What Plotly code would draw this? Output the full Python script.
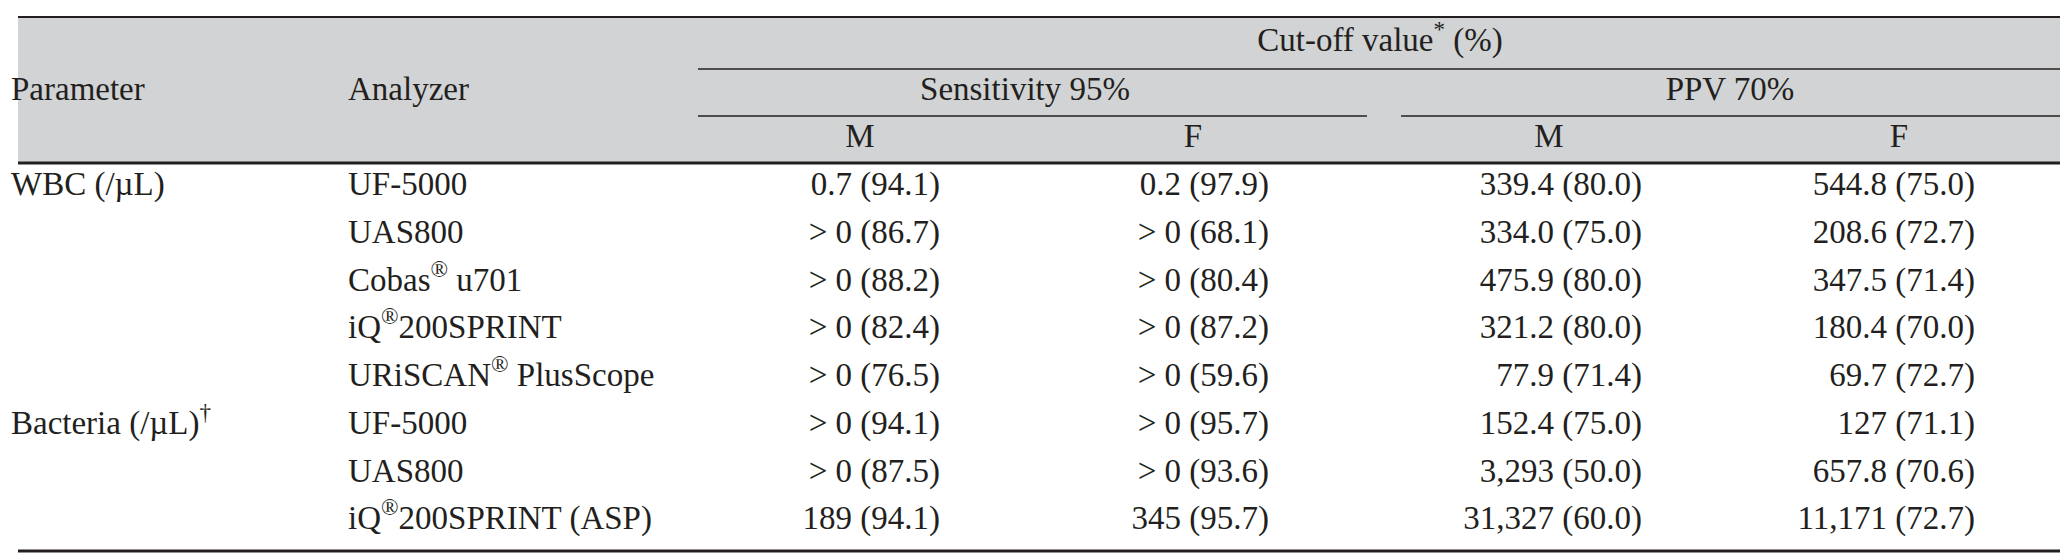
import plotly.graph_objects as go

# ---------------- data ----------------
parameters = ["WBC (/µL)", "", "", "", "", "Bacteria (/µL)<sup>†</sup>", "", ""]
analyzers = ["UF-5000", "UAS800", "Cobas<sup>®</sup> u701", "iQ<sup>®</sup>200SPRINT",
             "URiSCAN<sup>®</sup> PlusScope", "UF-5000", "UAS800", "iQ<sup>®</sup>200SPRINT (ASP)"]
sens_m = ["0.7 (94.1)", "> 0 (86.7)", "> 0 (88.2)", "> 0 (82.4)", "> 0 (76.5)", "> 0 (94.1)", "> 0 (87.5)", "189 (94.1)"]
sens_f = ["0.2 (97.9)", "> 0 (68.1)", "> 0 (80.4)", "> 0 (87.2)", "> 0 (59.6)", "> 0 (95.7)", "> 0 (93.6)", "345 (95.7)"]
ppv_m = ["339.4 (80.0)", "334.0 (75.0)", "475.9 (80.0)", "321.2 (80.0)", "77.9 (71.4)", "152.4 (75.0)", "3,293 (50.0)", "31,327 (60.0)"]
ppv_f = ["544.8 (75.0)", "208.6 (72.7)", "347.5 (71.4)", "180.4 (70.0)", "69.7 (72.7)", "127 (71.1)", "657.8 (70.6)", "11,171 (72.7)"]

header_top = "Cut-off value<sup>*</sup> (%)"
header_groups = ["Sensitivity 95%", "PPV 70%"]
header_sex = ["M", "F", "M", "F"]
header_left = ["Parameter", "Analyzer"]

# ---------------- layout constants ----------------
W, H = 2068, 554
FONT = "Liberation Serif"
FS = 33
INK = "#231f20"
GRAY = "#d1d3d4"

row_y = [179, 227, 275, 322, 370, 418, 466, 513]
x_param, x_anal = 3, 340
x_right = [932, 1261, 1634, 1967]
x_sex = [852, 1185, 1541, 1891]
x_group = [1017, 1722]
x_cut = 1372

y_top, y_cut_line, y_grp_line, y_head_bot, y_bottom = 9, 61, 108, 155, 543
y_head_left, y_head_cut, y_head_grp, y_head_sex = 84, 35, 84, 131
x_left, x_end = 10, 2061
grp_lines = [(690, 1359), (1393, 2061)]

fig = go.Figure()

def text_trace(xs, ys, texts, pos):
    fig.add_trace(go.Scatter(
        x=xs, y=ys, text=texts, mode="text", textposition=pos,
        textfont=dict(family=FONT, size=FS, color=INK),
        hoverinfo="skip", showlegend=False, cliponaxis=False))

# body
text_trace([x_param] * len(parameters), row_y, parameters, "middle right")
text_trace([x_anal] * len(analyzers), row_y, analyzers, "middle right")
for xr, col in zip(x_right, [sens_m, sens_f, ppv_m, ppv_f]):
    text_trace([xr] * len(col), row_y, col, "middle left")

# header
text_trace([x_param, x_anal], [y_head_left] * 2, header_left, "middle right")
text_trace([x_cut], [y_head_cut], [header_top], "middle center")
text_trace(x_group, [y_head_grp] * 2, header_groups, "middle center")
text_trace(x_sex, [y_head_sex] * 4, header_sex, "middle center")

shapes = [
    dict(type="rect", x0=x_left, x1=x_end, y0=y_top, y1=y_head_bot, fillcolor=GRAY,
         line=dict(width=0), layer="below", xref="x", yref="y"),
    dict(type="line", x0=x_left, x1=x_end, y0=y_top, y1=y_top, line=dict(color=INK, width=2), xref="x", yref="y"),
    dict(type="line", x0=grp_lines[0][0], x1=x_end, y0=y_cut_line, y1=y_cut_line, line=dict(color=INK, width=1.5), xref="x", yref="y"),
    dict(type="line", x0=x_left, x1=x_end, y0=y_head_bot, y1=y_head_bot, line=dict(color=INK, width=3), xref="x", yref="y"),
    dict(type="line", x0=x_left, x1=x_end, y0=y_bottom, y1=y_bottom, line=dict(color=INK, width=3), xref="x", yref="y"),
]
for a, b in grp_lines:
    shapes.append(dict(type="line", x0=a, x1=b, y0=y_grp_line, y1=y_grp_line,
                       line=dict(color=INK, width=1.5), xref="x", yref="y"))

fig.update_layout(
    width=W, height=H, margin=dict(l=0, r=0, t=0, b=0),
    paper_bgcolor="white", plot_bgcolor="white",
    xaxis=dict(range=[0, W], visible=False, fixedrange=True),
    yaxis=dict(range=[H, 0], visible=False, fixedrange=True),
    shapes=shapes,
)

fig.write_html("out.html")
